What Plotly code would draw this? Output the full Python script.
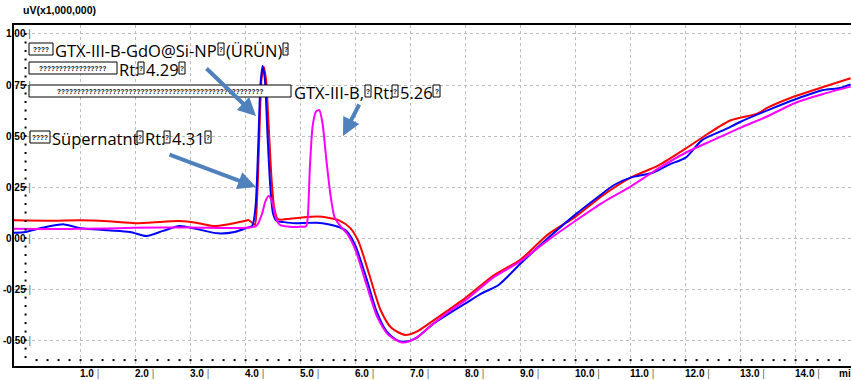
import numpy as np
import plotly.graph_objects as go

# ---- chromatogram data (time in min, signal in uV x 1,000,000) ----
urun_t = [-0.21, 0.0, 0.3, 0.7, 1.0, 1.5, 1.9, 2.2, 2.5, 2.8, 3.1, 3.5, 3.8, 4.0, 4.12,
          4.18, 4.23, 4.27, 4.31, 4.35, 4.40, 4.45, 4.50, 4.56, 4.7, 4.9, 5.1, 5.3, 5.5,
          5.7, 5.85, 6.0, 6.2, 6.38, 6.56, 6.75, 6.9, 7.1, 7.4, 7.7, 8.0, 8.3, 8.6, 9.0,
          9.5, 10.0, 10.4, 10.7, 11.0, 11.4, 11.7, 12.0, 12.3, 12.7, 13.0, 13.5, 14.0,
          14.5, 14.8, 15.0]
urun_v = [0.026, 0.03, 0.05, 0.067, 0.048, 0.038, 0.03, 0.01, 0.035, 0.059, 0.045, 0.023,
          0.03, 0.048, 0.06, 0.15, 0.45, 0.75, 0.843, 0.78, 0.5, 0.25, 0.12, 0.085, 0.078,
          0.072, 0.074, 0.075, 0.068, 0.054, 0.03, -0.04, -0.2, -0.358, -0.456, -0.5,
          -0.508, -0.49, -0.423, -0.37, -0.32, -0.27, -0.23, -0.125, 0.0, 0.116, 0.2, 0.26,
          0.296, 0.32, 0.36, 0.394, 0.48, 0.53, 0.57, 0.627, 0.68, 0.725, 0.735, 0.753]

supernatant_t = [-0.21, 0.5, 1.0, 1.5, 2.0, 2.5, 2.8, 3.1, 3.4, 3.7, 4.0, 4.05, 4.12, 4.17,
                 4.21, 4.25, 4.29, 4.33, 4.37, 4.42, 4.47, 4.52, 4.58, 4.65, 4.8, 5.0, 5.3,
                 5.5, 5.7, 5.9, 6.05, 6.25, 6.45, 6.65, 6.9, 7.1, 7.4, 7.7, 8.0, 8.5, 9.0,
                 9.5, 10.0, 10.5, 11.0, 11.5, 12.0, 12.4, 12.8, 13.0, 13.3, 13.5, 14.0,
                 14.5, 15.0]
supernatant_v = [0.087, 0.085, 0.087, 0.082, 0.073, 0.08, 0.083, 0.075, 0.059, 0.068, 0.085,
                 0.088, 0.075, 0.065, 0.2, 0.5, 0.78, 0.84, 0.78, 0.55, 0.3, 0.15, 0.095,
                 0.09, 0.095, 0.1, 0.105, 0.1, 0.087, 0.05, -0.015, -0.18, -0.35, -0.44,
                 -0.475, -0.46, -0.407, -0.35, -0.293, -0.185, -0.105, 0.018, 0.105, 0.21,
                 0.296, 0.355, 0.438, 0.51, 0.575, 0.59, 0.61, 0.64, 0.696, 0.74, 0.783]

standard_t = [-0.21, 1.0, 2.0, 3.0, 4.0, 4.2, 4.3, 4.36, 4.42, 4.48, 4.55, 4.62, 4.8, 5.0,
              5.1, 5.13, 5.17, 5.22, 5.28, 5.34, 5.4, 5.47, 5.55, 5.62, 5.72, 5.85, 6.0,
              6.2, 6.4, 6.6, 6.85, 7.1, 7.4, 7.7, 8.0, 8.5, 9.0, 9.5, 10.0, 10.5, 11.0,
              11.5, 12.0, 12.5, 13.0, 13.5, 14.0, 14.5, 15.0]
standard_v = [0.046, 0.045, 0.05, 0.052, 0.05, 0.06, 0.12, 0.18, 0.206, 0.18, 0.1, 0.065,
              0.055, 0.055, 0.058, 0.1, 0.35, 0.55, 0.62, 0.627, 0.56, 0.38, 0.2, 0.1, 0.06,
              0.02, -0.06, -0.23, -0.39, -0.475, -0.512, -0.49, -0.423, -0.36, -0.305,
              -0.194, -0.113, -0.01, 0.085, 0.175, 0.252, 0.34, 0.418, 0.48, 0.541, 0.598,
              0.663, 0.706, 0.742]

x_ticks = [float(i) for i in range(1, 15)]
x_tick_text = ["%.1f" % v for v in x_ticks]
y_ticks = [1.0, 0.75, 0.5, 0.25, 0.0, -0.25, -0.5]
y_tick_text = ["1.00", "0.75", "0.50", "0.25", "0.00", "-0.25", "-0.50"]

X_RANGE = [-0.21, 15.007]
Y_RANGE = [-0.627, 1.044]

# page geometry (pixels)
FIG_W, FIG_H = 851, 380
M_L, M_T, M_B = 14, 25, 14
PLOT_W = FIG_W - M_L
PLOT_H = FIG_H - M_T - M_B


def px_x(p):
    return (p - M_L) / PLOT_W


def px_y(p):
    return (FIG_H - M_B - p) / PLOT_H


fig = go.Figure()

for t, v, color in [(supernatant_t, supernatant_v, "#ff0000"),
                    (urun_t, urun_v, "#0000ff"),
                    (standard_t, standard_v, "#ff00ff")]:
    fig.add_trace(go.Scatter(x=t, y=v, mode="lines", hoverinfo="skip",
                             line=dict(color=color, width=2, shape="spline", smoothing=0.7)))

# dotted minor tick rows along the time axis and at t = 0
minor_x = np.arange(0.2, 15.0, 0.2)
fig.add_trace(go.Scatter(x=minor_x, y=[-0.598] * len(minor_x), mode="markers",
                         hoverinfo="skip",
                         marker=dict(symbol="square", size=2, color="black")))
minor_y = np.arange(-14, 25) * (0.25 / 6)
fig.add_trace(go.Scatter(x=[0.0] * len(minor_y), y=minor_y, mode="markers",
                         hoverinfo="skip",
                         marker=dict(symbol="square", size=2, color="black")))

annotations = []
shapes = []

TICK_FONT = dict(family="Liberation Sans", size=10, color="black")
BAR = "<span style='color:#666666'> |</span>"
for v, s in zip(y_ticks, y_tick_text):
    annotations.append(dict(xref="paper", yref="y", x=px_x(33), y=v, xanchor="right",
                            yanchor="middle", showarrow=False,
                            text="<b>%s</b>%s" % (s, BAR), font=TICK_FONT))
for v, s in zip(x_ticks, x_tick_text):
    annotations.append(dict(xref="x", yref="paper", x=v, y=px_y(373), xanchor="left",
                            yanchor="middle", xshift=-3, showarrow=False,
                            text="<b>%s</b>%s" % (s, BAR), font=TICK_FONT))
annotations.append(dict(xref="paper", yref="paper", x=px_x(837), y=px_y(373),
                        xanchor="left", yanchor="middle", showarrow=False,
                        text="<b>mi</b>", font=TICK_FONT))
annotations.append(dict(xref="paper", yref="paper", x=px_x(21), y=px_y(10),
                        xanchor="left", yanchor="middle", showarrow=False,
                        text="<b>uV(x1,000,000)</b>",
                        font=dict(family="Liberation Sans", size=10.5, color="black")))

# peak labels: text runs and unrendered-glyph boxes
LABEL_FONT = dict(family="Open Sans", size=16.5, color="black")
label_lines = [
    (49, [("box", 29, 53), ("txt", 53, "GTX-III-B-GdO@Si-NP"), ("box", 218, 224),
          ("txt", 224, "(ÜRÜN)"), ("box", 283, 288)]),
    (68, [("box", 29, 117), ("txt", 117, "Rt:"), ("box", 138, 144), ("txt", 144, "4.29"),
          ("box", 179, 185)]),
    (91, [("box", 29, 291), ("txt", 292, "GTX-III-B,"), ("box", 365, 371),
          ("txt", 371, "Rt:"), ("box", 392, 398), ("txt", 398, "5.26"),
          ("box", 433, 440)]),
    (137, [("box", 30, 50), ("txt", 50, "Süpernatnt"), ("box", 137, 143),
           ("txt", 143, "Rt:"), ("box", 164, 170), ("txt", 170, "4.31"),
           ("box", 205, 211)]),
]
for cy, runs in label_lines:
    for run in runs:
        if run[0] == "box":
            x0, x1 = run[1], run[2]
            shapes.append(dict(type="rect", xref="paper", yref="paper",
                               x0=px_x(x0), x1=px_x(x1), y0=px_y(cy - 6), y1=px_y(cy + 6),
                               line=dict(color="black", width=1), fillcolor="white"))
            n = max(1, int((x1 - x0) / 5))
            annotations.append(dict(xref="paper", yref="paper", x=px_x((x0 + x1) / 2),
                                    y=px_y(cy), xanchor="center", yanchor="middle",
                                    showarrow=False, text="<b>%s</b>" % ("?" * n),
                                    font=dict(family="Liberation Sans", size=6.5,
                                              color="black")))
        else:
            annotations.append(dict(xref="paper", yref="paper", x=px_x(run[1]),
                                    y=px_y(cy + 1), xanchor="left", yanchor="middle",
                                    showarrow=False, text=run[2], font=LABEL_FONT))

# pointer arrows
ARROW = "#4f81bd"
for head, tail in [((256, 116), (205, 67)), ((256, 187), (168, 154)),
                   ((343, 136), (360, 103))]:
    annotations.append(dict(xref="paper", yref="paper", x=px_x(head[0]), y=px_y(head[1]),
                            ax=tail[0] - head[0], ay=tail[1] - head[1], text="",
                            showarrow=True, arrowhead=2, arrowsize=0.9, arrowwidth=4,
                            arrowcolor=ARROW, standoff=0))

fig.update_layout(
    width=FIG_W, height=FIG_H,
    margin=dict(l=M_L, r=0, t=M_T, b=M_B),
    paper_bgcolor="white", plot_bgcolor="white",
    showlegend=False,
    annotations=annotations,
    shapes=shapes,
    xaxis=dict(range=X_RANGE, tickvals=x_ticks, showticklabels=False, ticks="",
               showgrid=True, gridcolor="#bdbdbd", gridwidth=1, griddash="dot",
               zeroline=False, showline=True, linecolor="black", linewidth=2,
               mirror=True),
    yaxis=dict(range=Y_RANGE, tickvals=y_ticks, showticklabels=False, ticks="",
               showgrid=True, gridcolor="#bdbdbd", gridwidth=1, griddash="dot",
               zeroline=False, showline=True, linecolor="black", linewidth=2),
)

fig.write_html("out.html")
